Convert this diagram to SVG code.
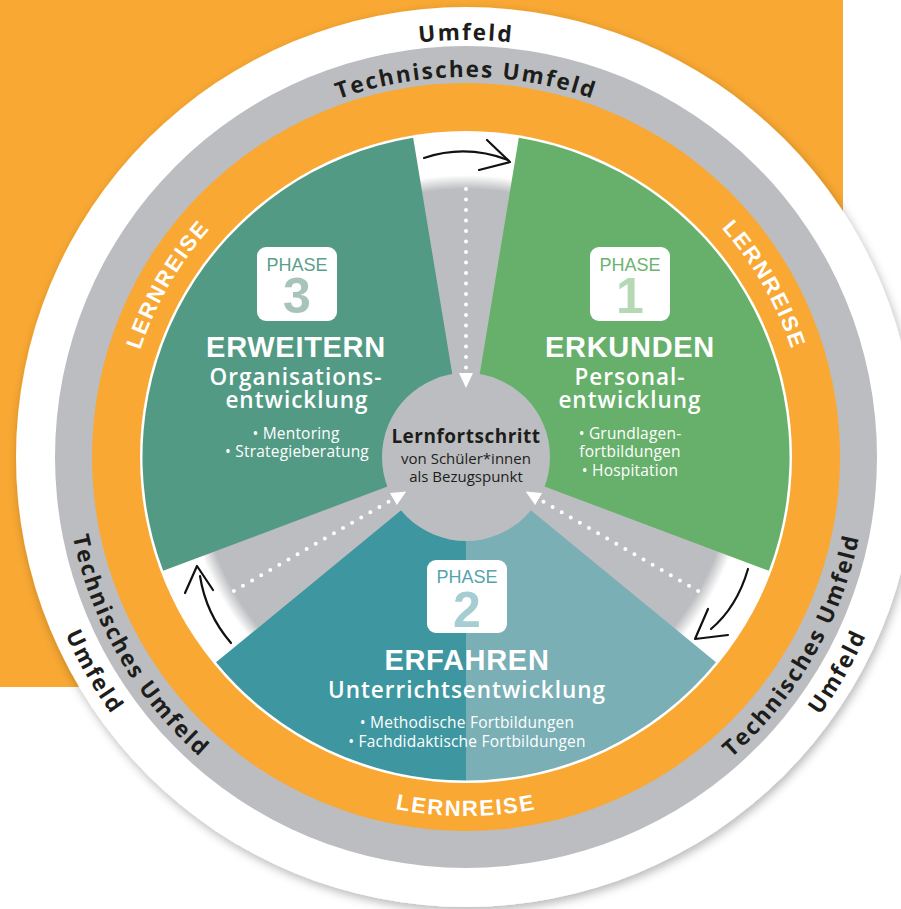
<svg xmlns="http://www.w3.org/2000/svg" width="901" height="909" viewBox="0 0 901 909">
<defs>
<style>
.ring{font-family:"Open Sans","DejaVu Sans",sans-serif;font-weight:700;font-size:22.5px;fill:#1d1d1b;letter-spacing:2px}
.lern{font-family:"Liberation Sans",Arial,sans-serif;font-weight:700;font-size:22px;fill:#fff;letter-spacing:1.8px}
.title{font-family:"Liberation Sans",Arial,sans-serif;font-weight:700;font-size:29px;fill:#fff;letter-spacing:0.7px;text-anchor:middle}
.sub{font-family:"Open Sans","DejaVu Sans",sans-serif;font-weight:600;font-size:22.5px;fill:#fff;letter-spacing:1px;text-anchor:middle}
.bul{font-family:"Open Sans","DejaVu Sans",sans-serif;font-size:15.5px;fill:#fff;letter-spacing:0.2px;text-anchor:middle}
.phase{font-family:"Liberation Sans",Arial,sans-serif;font-size:18px;text-anchor:middle}
.num{font-family:"Liberation Sans",Arial,sans-serif;font-weight:700;font-size:50px;text-anchor:middle}
.box{fill:#fff}
.c1{font-family:"Open Sans","DejaVu Sans",sans-serif;font-weight:700;font-size:19px;fill:#1d1d1b;text-anchor:middle;letter-spacing:0.5px}
.c2{font-family:"Open Sans","DejaVu Sans",sans-serif;font-size:15px;fill:#1d1d1b;text-anchor:middle}
.dots{fill:none;stroke:#fff;stroke-width:4;stroke-linecap:round;stroke-dasharray:0 10.5;marker-end:url(#tri)}
.hand{fill:none;stroke:#111;stroke-width:2.2;stroke-linecap:round;stroke-linejoin:round}
</style>
<filter id="sh" x="-10%" y="-10%" width="120%" height="120%">
<feDropShadow dx="2" dy="4" stdDeviation="5" flood-color="#000" flood-opacity="0.28"/>
</filter>
<radialGradient id="gapGray" gradientUnits="userSpaceOnUse" cx="466" cy="457" r="282">
<stop offset="0.95" stop-color="#bcbdc0"/>
<stop offset="1" stop-color="#ffffff"/>
</radialGradient>
<marker id="tri" viewBox="0 0 15 14" refX="0" refY="7" markerWidth="15" markerHeight="14" markerUnits="userSpaceOnUse" orient="auto">
<path d="M0 0 L15 7 L0 14 Z" fill="#fff"/>
</marker>
<path id="pUmTop" d="M49 457 A417 417 0 0 1 883 457"/>
<path id="pTeTop" d="M86 457 A380 380 0 0 1 846 457"/>
<path id="pLeUL" d="M245.52 719.75 A343 343 0 0 1 583.31 134.69"/>
<path id="pLeUR" d="M348.69 134.69 A343 343 0 0 1 686.48 719.75"/>
<path id="pLeB" d="M112.45 519.34 A359 359 0 0 0 819.55 519.34"/>
<path id="pTeLL" d="M208.24 149.82 A401 401 0 0 0 603.15 833.82"/>
<path id="pTeLR" d="M328.85 833.82 A401 401 0 0 0 723.76 149.82"/>
<path id="pUmLL" d="M184.46 121.47 A438 438 0 0 0 615.80 868.58"/>
<path id="pUmLR" d="M316.20 868.58 A438 438 0 0 0 747.54 121.47"/>
</defs>

<g id="background">
<rect x="0" y="0" width="843" height="687" fill="#f8a833"/>
<circle cx="466" cy="457" r="450" fill="#fff" filter="url(#sh)"/>
<circle cx="466" cy="457" r="411" fill="#bcbdc0"/>
<circle cx="466" cy="457" r="374" fill="#f8a833"/>
<circle cx="466" cy="457" r="326" fill="#fff"/>
<circle cx="466" cy="457" r="282" fill="url(#gapGray)"/>
</g>

<g id="ring-labels">
<text class="ring"><textPath href="#pUmTop" startOffset="50%" text-anchor="middle">Umfeld</textPath></text>
<text class="ring"><textPath href="#pTeTop" startOffset="50%" text-anchor="middle">Technisches Umfeld</textPath></text>
<text class="ring"><textPath href="#pTeLL" startOffset="50%" text-anchor="middle">Technisches Umfeld</textPath></text>
<text class="ring"><textPath href="#pTeLR" startOffset="50%" text-anchor="middle">Technisches Umfeld</textPath></text>
<text class="ring"><textPath href="#pUmLL" startOffset="50%" text-anchor="middle">Umfeld</textPath></text>
<text class="ring"><textPath href="#pUmLR" startOffset="50%" text-anchor="middle">Umfeld</textPath></text>
<text class="lern"><textPath href="#pLeUL" startOffset="50%" text-anchor="middle">LERNREISE</textPath></text>
<text class="lern"><textPath href="#pLeUR" startOffset="50%" text-anchor="middle">LERNREISE</textPath></text>
<text class="lern"><textPath href="#pLeB" startOffset="50%" text-anchor="middle">LERNREISE</textPath></text>
</g>

<g id="phase-1">
<path d="M466 457 L518.84 137.84 A323.5 323.5 0 0 1 768.82 570.82 Z" fill="#67b06b"/>
<rect class="box" x="590" y="247" width="80" height="74" rx="9"/>
<text class="phase" x="630" y="271" fill="#6cb36f">PHASE</text>
<text class="num" x="630" y="313" fill="#b5d9b4">1</text>
<text class="title" x="630" y="357">ERKUNDEN</text>
<text class="sub" x="630" y="385">Personal-</text>
<text class="sub" x="630" y="408">entwicklung</text>
<text class="bul" x="630" y="439">• Grundlagen-</text>
<text class="bul" x="630" y="457">fortbildungen</text>
<text class="bul" x="630" y="476">• Hospitation</text>
</g>

<g id="phase-2">
<path d="M466 457 L715.98 662.32 A323.5 323.5 0 0 1 466 780.5 Z" fill="#7aafb6"/>
<path d="M466 457 L466 780.5 A323.5 323.5 0 0 1 216.02 662.32 Z" fill="#3e97a0"/>
<rect class="box" x="427" y="560" width="80" height="73" rx="9"/>
<text class="phase" x="467" y="583" fill="#53a4ad">PHASE</text>
<text class="num" x="467" y="627" fill="#a6cdd2">2</text>
<text class="title" x="467" y="670">ERFAHREN</text>
<text class="sub" x="467" y="698">Unterrichtsentwicklung</text>
<text class="bul" x="467" y="728">• Methodische Fortbildungen</text>
<text class="bul" x="467" y="747">• Fachdidaktische Fortbildungen</text>
</g>

<g id="phase-3">
<path d="M466 457 L163.18 570.82 A323.5 323.5 0 0 1 413.16 137.84 Z" fill="#539a85"/>
<rect class="box" x="257" y="247" width="80" height="74" rx="9"/>
<text class="phase" x="297" y="271" fill="#5b9f8b">PHASE</text>
<text class="num" x="297" y="313" fill="#a8c4b9">3</text>
<text class="title" x="296" y="357">ERWEITERN</text>
<text class="sub" x="296" y="385">Organisations-</text>
<text class="sub" x="297" y="408">entwicklung</text>
<text class="bul" x="296" y="439">• Mentoring</text>
<text class="bul" x="297" y="457">• Strategieberatung</text>
</g>

<g id="center">
<circle cx="466" cy="457" r="84" fill="#bcbdc0"/>
<text class="c1" x="466" y="443">Lernfortschritt</text>
<text class="c2" x="466" y="464">von Schüler*innen</text>
<text class="c2" x="466" y="482">als Bezugspunkt</text>
</g>

<g id="connectors">
<path class="dots" d="M466 189 L466 373"/>
<path class="dots" d="M233.9 591 L393.3 499"/>
<path class="dots" d="M698.1 591 L538.7 499"/>
<path class="hand" d="M424 158 Q466 144 508 160"/>
<path class="hand" d="M487 140 L510 162 L479 170"/>
<path class="hand" d="M748 569 Q737 607 711 629"/>
<path class="hand" d="M708 609 L695 639 L728 635"/>
<path class="hand" d="M231 643 Q206 614 200 576"/>
<path class="hand" d="M185 593 L197 566 L213 590"/>
</g>
</svg>
